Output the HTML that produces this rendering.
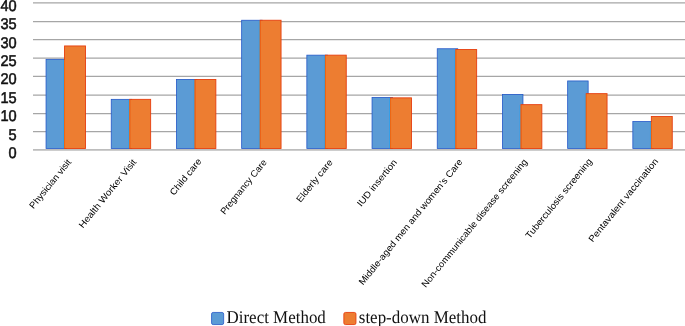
<!DOCTYPE html>
<html><head><meta charset="utf-8"><title>Chart</title>
<style>
html,body{margin:0;padding:0;background:#fff;}
svg{display:block;}
.ax{font-family:"Liberation Sans",sans-serif;font-size:14.6px;fill:#111;stroke:#111;stroke-width:0.5px;text-rendering:geometricPrecision;}
.cat{font-family:"Liberation Sans",sans-serif;font-size:9.2px;fill:#000;}
.lg{font-family:"Liberation Serif",serif;font-size:16.7px;fill:#111;text-rendering:geometricPrecision;}
</style></head><body>
<svg width="685" height="326" viewBox="0 0 685 326">
<rect width="685" height="326" fill="#fff"/>
<line x1="33.0" x2="685" y1="131.50" y2="131.50" stroke="#a6a6a6" stroke-width="1.25"/>
<line x1="33.0" x2="685" y1="113.50" y2="113.50" stroke="#a6a6a6" stroke-width="1.25"/>
<line x1="33.0" x2="685" y1="95.00" y2="95.00" stroke="#a6a6a6" stroke-width="1.25"/>
<line x1="33.0" x2="685" y1="76.40" y2="76.40" stroke="#a6a6a6" stroke-width="1.25"/>
<line x1="33.0" x2="685" y1="58.00" y2="58.00" stroke="#a6a6a6" stroke-width="1.25"/>
<line x1="33.0" x2="685" y1="39.50" y2="39.50" stroke="#a6a6a6" stroke-width="1.25"/>
<line x1="33.0" x2="685" y1="21.50" y2="21.50" stroke="#a6a6a6" stroke-width="1.25"/>
<line x1="33.0" x2="685" y1="2.95" y2="2.95" stroke="#a6a6a6" stroke-width="1.25"/>
<text class="ax" text-anchor="end" transform="translate(16.7,158.00) scale(1,1.06)">0</text>
<text class="ax" text-anchor="end" transform="translate(16.7,139.62) scale(1,1.06)">5</text>
<text class="ax" text-anchor="end" transform="translate(16.7,121.24) scale(1,1.06)">10</text>
<text class="ax" text-anchor="end" transform="translate(16.7,102.86) scale(1,1.06)">15</text>
<text class="ax" text-anchor="end" transform="translate(16.7,84.48) scale(1,1.06)">20</text>
<text class="ax" text-anchor="end" transform="translate(16.7,66.09) scale(1,1.06)">25</text>
<text class="ax" text-anchor="end" transform="translate(16.7,47.71) scale(1,1.06)">30</text>
<text class="ax" text-anchor="end" transform="translate(16.7,29.33) scale(1,1.06)">35</text>
<text class="ax" text-anchor="end" transform="translate(16.7,10.95) scale(1,1.06)">40</text>
<rect x="46.05" y="59.35" width="20.50" height="89.15" fill="#5b9bd5" stroke="#2458c8" stroke-width="0.8"/>
<rect x="64.55" y="45.95" width="20.90" height="102.55" fill="#ed7d31" stroke="#e63e0e" stroke-width="0.9"/>
<line x1="63.65" x2="63.65" y1="59.90" y2="148.05" stroke="#2aa0ee" stroke-width="0.9"/><line x1="64.55" x2="64.55" y1="59.90" y2="148.05" stroke="#f46c10" stroke-width="0.9"/>
<rect x="111.25" y="99.35" width="20.50" height="49.15" fill="#5b9bd5" stroke="#2458c8" stroke-width="0.8"/>
<rect x="129.75" y="99.35" width="20.90" height="49.15" fill="#ed7d31" stroke="#e63e0e" stroke-width="0.9"/>
<line x1="128.85" x2="128.85" y1="99.90" y2="148.05" stroke="#2aa0ee" stroke-width="0.9"/><line x1="129.75" x2="129.75" y1="99.90" y2="148.05" stroke="#f46c10" stroke-width="0.9"/>
<rect x="176.45" y="79.45" width="20.50" height="69.05" fill="#5b9bd5" stroke="#2458c8" stroke-width="0.8"/>
<rect x="194.95" y="79.45" width="20.90" height="69.05" fill="#ed7d31" stroke="#e63e0e" stroke-width="0.9"/>
<line x1="194.05" x2="194.05" y1="80.00" y2="148.05" stroke="#2aa0ee" stroke-width="0.9"/><line x1="194.95" x2="194.95" y1="80.00" y2="148.05" stroke="#f46c10" stroke-width="0.9"/>
<rect x="241.65" y="20.25" width="20.50" height="128.25" fill="#5b9bd5" stroke="#2458c8" stroke-width="0.8"/>
<rect x="260.15" y="20.25" width="20.90" height="128.25" fill="#ed7d31" stroke="#e63e0e" stroke-width="0.9"/>
<line x1="259.25" x2="259.25" y1="20.80" y2="148.05" stroke="#2aa0ee" stroke-width="0.9"/><line x1="260.15" x2="260.15" y1="20.80" y2="148.05" stroke="#f46c10" stroke-width="0.9"/>
<rect x="306.85" y="55.15" width="20.50" height="93.35" fill="#5b9bd5" stroke="#2458c8" stroke-width="0.8"/>
<rect x="325.35" y="55.15" width="20.90" height="93.35" fill="#ed7d31" stroke="#e63e0e" stroke-width="0.9"/>
<line x1="324.45" x2="324.45" y1="55.70" y2="148.05" stroke="#2aa0ee" stroke-width="0.9"/><line x1="325.35" x2="325.35" y1="55.70" y2="148.05" stroke="#f46c10" stroke-width="0.9"/>
<rect x="372.05" y="97.45" width="20.50" height="51.05" fill="#5b9bd5" stroke="#2458c8" stroke-width="0.8"/>
<rect x="390.55" y="97.85" width="20.90" height="50.65" fill="#ed7d31" stroke="#e63e0e" stroke-width="0.9"/>
<line x1="389.65" x2="389.65" y1="98.40" y2="148.05" stroke="#2aa0ee" stroke-width="0.9"/><line x1="390.55" x2="390.55" y1="98.40" y2="148.05" stroke="#f46c10" stroke-width="0.9"/>
<rect x="437.25" y="48.75" width="20.50" height="99.75" fill="#5b9bd5" stroke="#2458c8" stroke-width="0.8"/>
<rect x="455.75" y="49.55" width="20.90" height="98.95" fill="#ed7d31" stroke="#e63e0e" stroke-width="0.9"/>
<line x1="454.85" x2="454.85" y1="50.10" y2="148.05" stroke="#2aa0ee" stroke-width="0.9"/><line x1="455.75" x2="455.75" y1="50.10" y2="148.05" stroke="#f46c10" stroke-width="0.9"/>
<rect x="502.45" y="94.45" width="20.50" height="54.05" fill="#5b9bd5" stroke="#2458c8" stroke-width="0.8"/>
<rect x="520.95" y="104.65" width="20.90" height="43.85" fill="#ed7d31" stroke="#e63e0e" stroke-width="0.9"/>
<line x1="520.05" x2="520.05" y1="105.20" y2="148.05" stroke="#2aa0ee" stroke-width="0.9"/><line x1="520.95" x2="520.95" y1="105.20" y2="148.05" stroke="#f46c10" stroke-width="0.9"/>
<rect x="567.65" y="80.95" width="20.50" height="67.55" fill="#5b9bd5" stroke="#2458c8" stroke-width="0.8"/>
<rect x="586.15" y="93.65" width="20.90" height="54.85" fill="#ed7d31" stroke="#e63e0e" stroke-width="0.9"/>
<line x1="585.25" x2="585.25" y1="94.20" y2="148.05" stroke="#2aa0ee" stroke-width="0.9"/><line x1="586.15" x2="586.15" y1="94.20" y2="148.05" stroke="#f46c10" stroke-width="0.9"/>
<rect x="632.85" y="121.55" width="20.50" height="26.95" fill="#5b9bd5" stroke="#2458c8" stroke-width="0.8"/>
<rect x="651.35" y="116.50" width="20.90" height="32.00" fill="#ed7d31" stroke="#e63e0e" stroke-width="0.9"/>
<line x1="650.45" x2="650.45" y1="122.10" y2="148.05" stroke="#2aa0ee" stroke-width="0.9"/><line x1="651.35" x2="651.35" y1="122.10" y2="148.05" stroke="#f46c10" stroke-width="0.9"/>
<line x1="33.0" x2="685" y1="149.87" y2="149.87" stroke="#bdbdbd" stroke-width="1.85"/>
<text class="cat" text-anchor="end" textLength="60.4" lengthAdjust="spacingAndGlyphs" transform="translate(71.6,162.3) rotate(-51.0)">Physician visit</text>
<text class="cat" text-anchor="end" textLength="85.5" lengthAdjust="spacingAndGlyphs" transform="translate(136.8,162.3) rotate(-51.0)">Health Worker Visit</text>
<text class="cat" text-anchor="end" textLength="44.5" lengthAdjust="spacingAndGlyphs" transform="translate(202.0,161.5) rotate(-51.0)">Child care</text>
<text class="cat" text-anchor="end" textLength="67.6" lengthAdjust="spacingAndGlyphs" transform="translate(267.2,162.5) rotate(-51.0)">Pregnancy Care</text>
<text class="cat" text-anchor="end" textLength="52.1" lengthAdjust="spacingAndGlyphs" transform="translate(333.2,162.5) rotate(-51.0)">Elderly care</text>
<text class="cat" text-anchor="end" textLength="57.6" lengthAdjust="spacingAndGlyphs" transform="translate(397.4,162.5) rotate(-51.0)">IUD insertion</text>
<text class="cat" text-anchor="end" textLength="158.9" lengthAdjust="spacingAndGlyphs" transform="translate(463.0,162.1) rotate(-51.0)">Middle-aged men and women’s Care</text>
<text class="cat" text-anchor="end" textLength="162.1" lengthAdjust="spacingAndGlyphs" transform="translate(527.8,162.1) rotate(-51.0)">Non-communicable disease screening</text>
<text class="cat" text-anchor="end" textLength="99.9" lengthAdjust="spacingAndGlyphs" transform="translate(592.6,161.5) rotate(-51.0)">Tuberculosis screening</text>
<text class="cat" text-anchor="end" textLength="104.6" lengthAdjust="spacingAndGlyphs" transform="translate(658.6,161.5) rotate(-51.0)">Pentavalent vaccination</text>
<rect x="211.55" y="312.45" width="12.1" height="12.1" rx="1.6" fill="#5b9bd5" stroke="#2458c8" stroke-width="0.8"/>
<text class="lg" transform="translate(226.5,322.55) scale(1.016,1.07)">Direct Method</text>
<rect x="343.85" y="312.45" width="12.1" height="12.1" rx="1.6" fill="#ed7d31" stroke="#e63e0e" stroke-width="0.9"/>
<text class="lg" transform="translate(358.8,322.55) scale(1.016,1.07)">step-down Method</text>
</svg></body></html>
